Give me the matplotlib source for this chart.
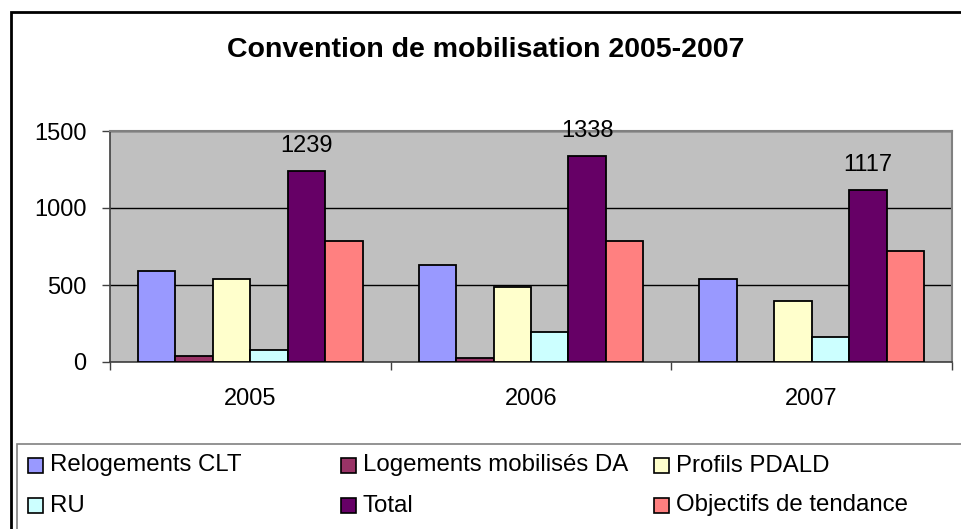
import matplotlib
matplotlib.use("Agg")
from matplotlib import pyplot as plt
from matplotlib.patches import Rectangle
import numpy as np

plt.rcParams['font.family'] = ['Liberation Sans', 'DejaVu Sans']

years = ['2005', '2006', '2007']
series = ['Relogements CLT', 'Logements mobilisés DA', 'Profils PDALD',
          'RU', 'Total', 'Objectifs de tendance']
relogements = [590, 629, 539]
logements_da = [37, 24, 0]
profils = [541, 485, 397]
ru = [76, 194, 164]
total = [1239, 1338, 1117]
objectifs = [784, 784, 720]
colors = ['#9999FF', '#993366', '#FFFFCC', '#CCFFFF', '#660066', '#FF8080']

values = [relogements, logements_da, profils, ru, total, objectifs]

W, H = 962, 529
fig = plt.figure(figsize=(W / 100, H / 100), dpi=100)

def fx(px):
    return px / W

def fy(py):
    return 1 - py / H

# outer chart frame (runs off the right and bottom edges)
fig.patches.append(Rectangle((fx(11), fy(600)), 2, fy(12) - fy(600),
                             transform=fig.transFigure, fill=False,
                             edgecolor='black', linewidth=2))

ax = fig.add_axes([fx(110), fy(362), fx(952) - fx(110), fy(131) - fy(362)])
ax.set_facecolor('#C0C0C0')

x = np.arange(len(years))
w = 1 / 7.5
for i, (vals, col) in enumerate(zip(values, colors)):
    bars = ax.bar(x + (i - 2.5) * w, vals, width=w, color=col,
                  edgecolor='black', linewidth=1.3, zorder=3)
    if series[i] == 'Total':
        for b, v in zip(bars, vals):
            ax.annotate(str(v), (b.get_x() + b.get_width() / 2, v),
                        xytext=(0, 13.5), textcoords='offset points',
                        ha='center', va='baseline', fontsize=17,
                        annotation_clip=False, zorder=5)

ax.set_xlim(-0.5, 2.5)
ax.set_ylim(0, 1500)
ax.set_yticks([0, 500, 1000, 1500])
ax.yaxis.grid(True, color='black', linewidth=1, zorder=1)
ax.tick_params(axis='y', length=6, width=1, color='#404040', pad=11,
               labelsize=17)
ax.set_xticks([-0.5, 0.5, 1.5, 2.5])
ax.set_xticklabels([])
ax.set_xticks(x, minor=True)
ax.set_xticklabels(years, minor=True)
ax.tick_params(axis='x', which='major', length=6, width=1, color='#404040')
ax.tick_params(axis='x', which='minor', length=0, pad=19, labelsize=17)

for s in ['top', 'right']:
    ax.spines[s].set_color('#808080')
    ax.spines[s].set_linewidth(1.5)
for s in ['left', 'bottom']:
    ax.spines[s].set_color('#404040')
    ax.spines[s].set_linewidth(1.2)

fig.text(fx(486), fy(50), 'Convention de mobilisation 2005-2007',
         ha='center', va='center', fontsize=20.5, fontweight='bold')

# legend box (runs off the right and bottom edges)
fig.patches.append(Rectangle((fx(17), fy(600)), 2, fy(444) - fy(600),
                             transform=fig.transFigure, fill=False,
                             edgecolor='#808080', linewidth=1.2))

col_x = [28, 341, 654]
row_y = [465.5, 505.5]
order = [(0, 0), (0, 1), (0, 2), (1, 0), (1, 1), (1, 2)]
for (r, c), name, col in zip(order, series, colors):
    fig.patches.append(Rectangle((fx(col_x[c]), fy(row_y[r] + 7.5)),
                                 fx(15), fy(0) - fy(15),
                                 transform=fig.transFigure,
                                 facecolor=col, edgecolor='black',
                                 linewidth=1.2))
    fig.text(fx(col_x[c] + 22), fy(row_y[r]), name, ha='left',
             va='center', fontsize=17.3)

fig.savefig('out.png', dpi=100)
